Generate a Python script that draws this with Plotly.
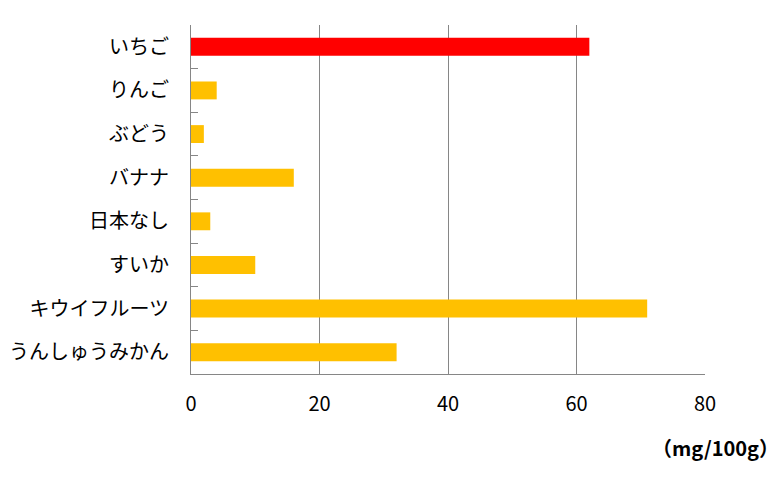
import plotly.graph_objects as go

categories = ["いちご", "りんご", "ぶどう", "バナナ", "日本なし", "すいか", "キウイフルーツ", "うんしゅうみかん"]
values = [62, 4, 2, 16, 3, 10, 71, 32]
bar_colors = ["#FF0000"] + ["#FFC000"] * 7
x_ticks = [0, 20, 40, 60, 80]
unit_label = "（mg/100g）"

FONT = "Noto Sans CJK JP"

fig = go.Figure(go.Bar(
    y=categories, x=values, orientation="h",
    marker=dict(color=bar_colors, line=dict(width=0)),
    width=0.41,
))

fig.update_layout(
    width=778, height=485,
    margin=dict(l=183, r=81, t=17, b=119, autoexpand=False),
    plot_bgcolor="white", paper_bgcolor="white",
    showlegend=False,
    font=dict(family=FONT, size=20, color="#000000"),
    xaxis=dict(
        range=[0, 80], tickvals=x_ticks, showgrid=True,
        gridcolor="#868686", gridwidth=1,
        showline=True, linecolor="#868686", linewidth=1,
        zeroline=False, ticks="", ticklabelstandoff=12,
        tickfont=dict(family=FONT, size=20),
    ),
    yaxis=dict(
        categoryorder="array", categoryarray=categories, autorange="reversed",
        showline=True, linecolor="#868686", linewidth=1,
        ticks="inside", tickson="boundaries", ticklen=7, tickcolor="#868686",
        showgrid=False, ticklabelstandoff=17,
        tickfont=dict(family=FONT, size=20),
    ),
    annotations=[dict(
        text="<b>" + unit_label + "</b>", xref="paper", yref="paper",
        x=1.0195, y=-0.212, xanchor="center", yanchor="middle", showarrow=False,
        font=dict(family=FONT, size=20),
    )],
)

fig.write_html("out.html")
